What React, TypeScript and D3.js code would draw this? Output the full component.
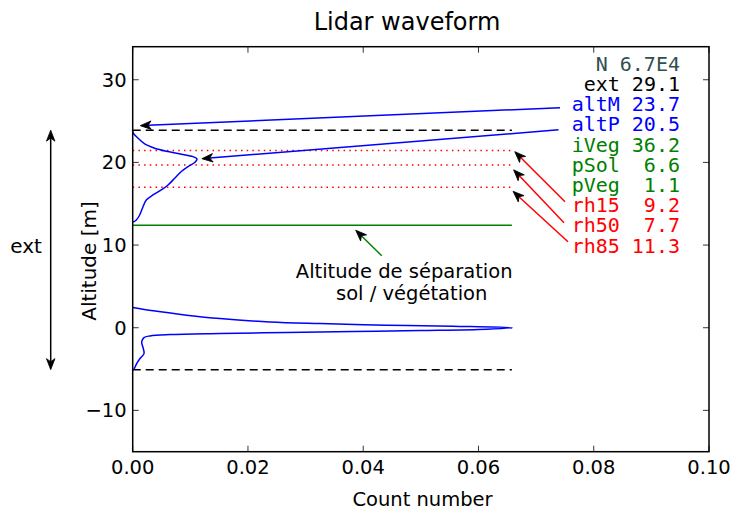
import React from "react";
import * as d3 from "d3";

const W = 734;
const H = 507;
const PLOT = { left: 132.7, right: 709, top: 46.7, bottom: 451.7 };

const xTicks = [0, 0.02, 0.04, 0.06, 0.08, 0.1];
const yTicks = [-10, 0, 10, 20, 30];
const xDomain: [number, number] = [0, 0.1];
const yDomain: [number, number] = [-15, 34];

// vegetation part of the waveform
const vegCount = [0, 0.00005, 0.00092, 0.00208, 0.00382, 0.00613, 0.00844, 0.01046, 0.01116, 0.01076, 0.0096, 0.00844, 0.00729, 0.00613, 0.00497, 0.00352, 0.00236, 0.00179, 0.00121, 0.00063, 0.00023, 0];
const vegAlt = [23.9, 23.6, 22.93, 22.24, 21.72, 21.31, 20.99, 20.7, 20.42, 19.98, 19.5, 18.9, 18.08, 17.27, 16.67, 16.06, 15.45, 14.64, 13.64, 13.03, 12.83, 12.8];

// ground part of the waveform
const groundCount = [0, 0.00357, 0.00937, 0.01515, 0.0238, 0.0325, 0.0441, 0.0556, 0.0659, 0.0614, 0.0499, 0.0383, 0.0267, 0.0151, 0.00647, 0.003, 0.00196, 0.00156, 0.00184, 0.00196, 0.00127, 0.00069, 0.0002, 0];
const groundAlt = [2.45, 2.04, 1.52, 1.11, 0.7, 0.5, 0.3, 0.18, 0, -0.18, -0.34, -0.46, -0.58, -0.7, -0.83, -0.99, -1.19, -1.72, -2.52, -3.13, -3.73, -4.34, -5.03, -5.1];

const extTop = 23.9;
const extBottom = -5.07;
const lineEndCount = 0.0658;
const separationAlt = 12.4;
const rhAlts = [21.43, 19.7, 17.0];

const statNames = ["N", "ext", "altM", "altP", "iVeg", "pSol", "pVeg", "rh15", "rh50", "rh85"];
const statValues = ["6.7E4", "29.1", "23.7", "20.5", "36.2", "6.6", "1.1", "9.2", "7.7", "11.3"];
const statColors = ["#2f4f4f", "#000000", "#0000ff", "#0000ff", "#008000", "#008000", "#008000", "#ff0000", "#ff0000", "#ff0000"];

// annotation arrow targets (data coords)
const altMTarget = [0.0013, 24.45];
const altPTarget = [0.012, 20.45];
const rhTargets = [
  [0.0663, 21.3],
  [0.0661, 19.1],
  [0.066, 16.5],
];
const sepTarget = [0.0387, 11.8];

const FONT = "'DejaVu Sans', sans-serif";
const MONO = "'DejaVu Sans Mono', monospace";

function Arrow({ x1, y1, x2, y2, color, head = "#000", doubleHead = false }: any) {
  const L = 11;
  const Wd = 8.5;
  const ang = Math.atan2(y2 - y1, x2 - x1);
  const deg = (ang * 180) / Math.PI;
  const headPath = `M0,0 L${-L},${-Wd / 2} L${-L * 0.72},0 L${-L},${Wd / 2} Z`;
  const ux = Math.cos(ang);
  const uy = Math.sin(ang);
  const ex = x2 - ux * L * 0.72;
  const ey = y2 - uy * L * 0.72;
  const sx = doubleHead ? x1 + ux * L * 0.72 : x1;
  const sy = doubleHead ? y1 + uy * L * 0.72 : y1;
  return (
    <g>
      <line x1={sx} y1={sy} x2={ex} y2={ey} stroke={color} strokeWidth={1.5} />
      <path d={headPath} fill={head} stroke={head} strokeWidth={0.8} transform={`translate(${x2},${y2}) rotate(${deg})`} />
      {doubleHead && (
        <path d={headPath} fill={head} stroke={head} strokeWidth={0.8} transform={`translate(${x1},${y1}) rotate(${deg + 180})`} />
      )}
    </g>
  );
}

export default function App() {
  const x = d3.scaleLinear().domain(xDomain).range([PLOT.left, PLOT.right]);
  const y = d3.scaleLinear().domain(yDomain).range([PLOT.bottom, PLOT.top]);

  const vegPts: [number, number][] = vegCount.map((c, i) => [x(c), y(vegAlt[i])]);
  const groundPts: [number, number][] = groundCount.map((c, i) => [x(c), y(groundAlt[i])]);
  const path = d3.line().curve(d3.curveCatmullRom.alpha(0.5));

  const tickLen = 6;
  const textRight = 680;
  const baseline0 = 70.7;
  const lineStep = 20.2;
  const fmt = (v: string) => (v.length < 4 ? v.padStart(4, " ") : v);

  const statTexts = statNames.map((n, i) => `${n} ${fmt(statValues[i])}`);

  // sources of the annotation arrows (near text left edges)
  const srcAltM = [560, baseline0 + 2 * lineStep - 3.4];
  const srcAltP = [558.5, baseline0 + 3 * lineStep - 1.5];
  const rhSrc = [
    [565, baseline0 + 7 * lineStep - 10.4],
    [564, baseline0 + 8 * lineStep - 9.6],
    [568, baseline0 + 9 * lineStep - 10.8],
  ];

  return (
    <svg width={W} height={H} style={{ position: "absolute", left: 0, top: 0, background: "#fff" }}>
      <rect x={0} y={0} width={W} height={H} fill="#fff" />
      <text x={407} y={30} fontFamily={FONT} fontSize={24} textAnchor="middle" fill="#000">
        Lidar waveform
      </text>

      {/* reference lines */}
      <line x1={x(0)} x2={x(lineEndCount)} y1={y(extTop)} y2={y(extTop)} stroke="#000" strokeWidth={1.5} strokeDasharray="8,5" />
      <line x1={x(0)} x2={x(lineEndCount)} y1={y(extBottom)} y2={y(extBottom)} stroke="#000" strokeWidth={1.5} strokeDasharray="8,5" />
      {rhAlts.map((a, i) => (
        <line key={i} x1={x(0)} x2={x(lineEndCount)} y1={y(a)} y2={y(a)} stroke="#ff0000" strokeWidth={1.5} strokeDasharray="1.5,4.2" />
      ))}
      <line x1={x(0)} x2={x(lineEndCount)} y1={y(separationAlt)} y2={y(separationAlt)} stroke="#008000" strokeWidth={1.5} />

      {/* waveform */}
      <path d={path(vegPts) || ""} fill="none" stroke="#0000ff" strokeWidth={1.5} />
      <path d={path(groundPts) || ""} fill="none" stroke="#0000ff" strokeWidth={1.5} />

      {/* axes frame */}
      <rect x={PLOT.left} y={PLOT.top} width={PLOT.right - PLOT.left} height={PLOT.bottom - PLOT.top} fill="none" stroke="#000" strokeWidth={1.5} />
      {xTicks.map((t) => (
        <g key={"x" + t}>
          <line x1={x(t)} x2={x(t)} y1={PLOT.bottom} y2={PLOT.bottom - tickLen} stroke="#000" strokeWidth={0.8} />
          <line x1={x(t)} x2={x(t)} y1={PLOT.top} y2={PLOT.top + tickLen} stroke="#000" strokeWidth={0.8} />
          <text x={x(t)} y={474} fontFamily={FONT} fontSize={19.5} textAnchor="middle" fill="#000">
            {t.toFixed(2)}
          </text>
        </g>
      ))}
      {yTicks.map((t) => (
        <g key={"y" + t}>
          <line x1={PLOT.left} x2={PLOT.left + tickLen} y1={y(t)} y2={y(t)} stroke="#000" strokeWidth={0.8} />
          <line x1={PLOT.right} x2={PLOT.right - tickLen} y1={y(t)} y2={y(t)} stroke="#000" strokeWidth={0.8} />
          <text x={PLOT.left - 6} y={y(t)} dy="0.36em" fontFamily={FONT} fontSize={19.5} textAnchor="end" fill="#000">
            {t < 0 ? "\u2212" + Math.abs(t) : String(t)}
          </text>
        </g>
      ))}

      <text x={422.5} y={506} fontFamily={FONT} fontSize={19.5} textAnchor="middle" fill="#000">
        Count number
      </text>
      <text transform={`translate(96,261) rotate(-90)`} fontFamily={FONT} fontSize={20} textAnchor="middle" fill="#000">
        Altitude [m]
      </text>

      {/* ext double arrow */}
      <Arrow x1={50.7} y1={y(extTop)} x2={50.7} y2={y(extBottom)} color="#000" doubleHead />
      <text x={26} y={y(9.9)} dy="0.36em" fontFamily={FONT} fontSize={20} textAnchor="middle" fill="#000">
        ext
      </text>

      {/* stats block */}
      {statTexts.map((s, i) => (
        <text
          key={i}
          x={textRight}
          y={baseline0 + i * lineStep}
          fontFamily={MONO}
          fontSize={20}
          textAnchor="end"
          fill={statColors[i]}
          style={{ whiteSpace: "pre" }}
        >
          {s}
        </text>
      ))}

      {/* annotations */}
      <Arrow x1={srcAltM[0]} y1={srcAltM[1]} x2={x(altMTarget[0])} y2={y(altMTarget[1])} color="#0000ff" />
      <Arrow x1={srcAltP[0]} y1={srcAltP[1]} x2={x(altPTarget[0])} y2={y(altPTarget[1])} color="#0000ff" />
      {rhTargets.map((t, i) => (
        <Arrow key={i} x1={rhSrc[i][0]} y1={rhSrc[i][1]} x2={x(t[0])} y2={y(t[1])} color="#ff0000" />
      ))}
      <Arrow x1={381.7} y1={255.7} x2={x(sepTarget[0])} y2={y(sepTarget[1])} color="#008000" />
      <text x={404.2} y={278.3} fontFamily={FONT} fontSize={19.5} textAnchor="middle" fill="#000">
        Altitude de séparation
      </text>
      <text x={411.7} y={300} fontFamily={FONT} fontSize={19.5} textAnchor="middle" fill="#000">
        sol / végétation
      </text>
    </svg>
  );
}
